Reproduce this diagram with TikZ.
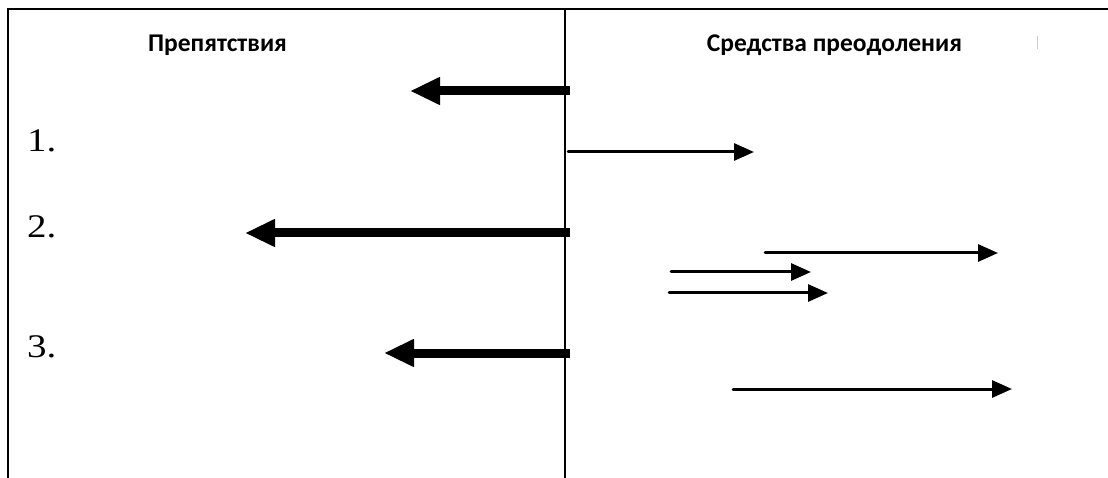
\documentclass[tikz,border=0pt]{standalone}
\usepackage{fontspec}
\setmainfont{Liberation Serif}
\newfontfamily\headfont{Carlito}
\usetikzlibrary{arrows.meta}
\newcommand{\wide}[1]{\scalebox{1.18}[1]{#1}}
\tikzset{
  head/.style={font=\headfont\bfseries\fontsize{25.5}{28}\selectfont, inner sep=0pt, anchor=base},
  num/.style={font=\fontsize{33}{36}\selectfont, inner sep=0pt, anchor=base west},
  frame/.style={line width=2pt},
  bigarrow/.style={line width=9pt, -{Triangle[length=30pt,width=26pt]}},
  thinarrow/.style={line width=3pt, line cap=round, -{Triangle[length=20pt,width=17pt]}}
}
\begin{document}
\begin{tikzpicture}[x=1pt,y=-1pt]
   \useasboundingbox (0,0) rectangle (1108,478);
   % table lines
   \coordinate (tl) at (8,9.5);
   \coordinate (tr) at (1108,9.5);
   \coordinate (bl) at (8,478);
   \coordinate (mt) at (565,9.5);
   \coordinate (mb) at (565,478);
   \draw[frame] (bl) -- (tl) -- (tr);
   \draw[frame] (mt) -- (mb);
   \draw[gray!40, very thin] (1037,36) -- (1037,49);
   % headings
   \node[head] (obst) at (217.5,52) {Препятствия};
   \node[head] (means) at (834.5,52) {Средства преодоления};
   \node[num] (n1) at (27,152) {\wide{1.}};
   \node[num] (n2) at (27,238) {\wide{2.}};
   \node[num] (n3) at (27,357) {\wide{3.}};
   % obstacles
   \coordinate (o1s) at (570,91);  \coordinate (o1e) at (410,91);
   \coordinate (o2s) at (570,233); \coordinate (o2e) at (245,233);
   \coordinate (o3s) at (570,353); \coordinate (o3e) at (384,353);
   \draw[bigarrow] (o1s) -- (o1e);
   \draw[bigarrow] (o2s) -- (o2e);
   \draw[bigarrow] (o3s) -- (o3e);
   % means
   \coordinate (m1s) at (568,152); \coordinate (m1e) at (754,152);
   \coordinate (m2s) at (765,253); \coordinate (m2e) at (998,253);
   \coordinate (m3s) at (671,272); \coordinate (m3e) at (811,272);
   \coordinate (m4s) at (669,293); \coordinate (m4e) at (828,293);
   \coordinate (m5s) at (733,389); \coordinate (m5e) at (1012,389);
   \draw[thinarrow] (m1s) -- (m1e);
   \draw[thinarrow] (m2s) -- (m2e);
   \draw[thinarrow] (m3s) -- (m3e);
   \draw[thinarrow] (m4s) -- (m4e);
   \draw[thinarrow] (m5s) -- (m5e);
\end{tikzpicture}
\end{document}
